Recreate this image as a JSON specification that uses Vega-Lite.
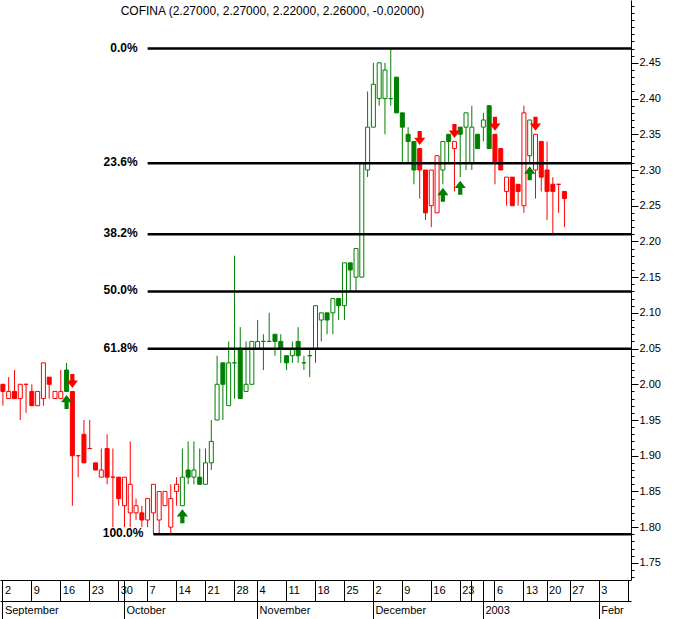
{
  "$schema": "https://vega.github.io/schema/vega-lite/v6.json",
  "width": 631,
  "height": 580,
  "padding": 0,
  "autosize": {"type": "pad"},
  "background": "white",
  "config": {
    "view": {"stroke": null},
    "axis": {"labelFont": "Liberation Sans", "labelFontSize": 11, "labelColor": "#000000", "tickColor": "#000000", "domainColor": "#000000", "grid": false, "tickWidth": 1, "domainWidth": 1}
  },
  "datasets": {
    "px": [
      {"d": "2002-09-02", "o": 2.00, "h": 2.00, "l": 1.97, "c": 1.99, "t": "r", "s": ""},
      {"d": "2002-09-03", "o": 1.98, "h": 2.01, "l": 1.98, "c": 1.99, "t": "r", "s": ""},
      {"d": "2002-09-04", "o": 1.99, "h": 2.02, "l": 1.98, "c": 1.98, "t": "r", "s": ""},
      {"d": "2002-09-05", "o": 1.98, "h": 2.00, "l": 1.95, "c": 2.00, "t": "r", "s": ""},
      {"d": "2002-09-06", "o": 2.00, "h": 2.00, "l": 1.96, "c": 2.00, "t": "r", "s": ""},
      {"d": "2002-09-09", "o": 1.99, "h": 2.00, "l": 1.97, "c": 1.97, "t": "r", "s": ""},
      {"d": "2002-09-10", "o": 1.97, "h": 1.99, "l": 1.97, "c": 1.99, "t": "r", "s": ""},
      {"d": "2002-09-11", "o": 1.98, "h": 2.03, "l": 1.97, "c": 2.03, "t": "r", "s": ""},
      {"d": "2002-09-12", "o": 2.01, "h": 2.01, "l": 1.98, "c": 2.00, "t": "r", "s": ""},
      {"d": "2002-09-13", "o": 1.98, "h": 1.99, "l": 1.98, "c": 1.99, "t": "r", "s": ""},
      {"d": "2002-09-16", "o": 1.98, "h": 2.02, "l": 1.98, "c": 1.99, "t": "r", "s": ""},
      {"d": "2002-09-17", "o": 2.02, "h": 2.03, "l": 1.99, "c": 1.99, "t": "g", "s": "buy"},
      {"d": "2002-09-18", "o": 1.99, "h": 1.99, "l": 1.83, "c": 1.90, "t": "r", "s": "sell"},
      {"d": "2002-09-19", "o": 1.90, "h": 1.90, "l": 1.87, "c": 1.90, "t": "r", "s": ""},
      {"d": "2002-09-20", "o": 1.93, "h": 1.95, "l": 1.89, "c": 1.89, "t": "r", "s": ""},
      {"d": "2002-09-23", "o": 1.91, "h": 1.95, "l": 1.91, "c": 1.91, "t": "r", "s": ""},
      {"d": "2002-09-24", "o": 1.89, "h": 1.89, "l": 1.88, "c": 1.88, "t": "r", "s": ""},
      {"d": "2002-09-25", "o": 1.87, "h": 1.91, "l": 1.87, "c": 1.88, "t": "r", "s": ""},
      {"d": "2002-09-26", "o": 1.91, "h": 1.93, "l": 1.86, "c": 1.87, "t": "r", "s": ""},
      {"d": "2002-09-27", "o": 1.87, "h": 1.91, "l": 1.80, "c": 1.87, "t": "r", "s": ""},
      {"d": "2002-09-30", "o": 1.87, "h": 1.87, "l": 1.83, "c": 1.84, "t": "r", "s": ""},
      {"d": "2002-10-01", "o": 1.83, "h": 1.87, "l": 1.80, "c": 1.87, "t": "r", "s": ""},
      {"d": "2002-10-02", "o": 1.82, "h": 1.92, "l": 1.80, "c": 1.86, "t": "r", "s": ""},
      {"d": "2002-10-03", "o": 1.82, "h": 1.84, "l": 1.81, "c": 1.83, "t": "r", "s": ""},
      {"d": "2002-10-04", "o": 1.82, "h": 1.83, "l": 1.80, "c": 1.81, "t": "r", "s": ""},
      {"d": "2002-10-07", "o": 1.81, "h": 1.84, "l": 1.80, "c": 1.84, "t": "r", "s": ""},
      {"d": "2002-10-08", "o": 1.82, "h": 1.86, "l": 1.79, "c": 1.86, "t": "r", "s": ""},
      {"d": "2002-10-09", "o": 1.81, "h": 1.85, "l": 1.79, "c": 1.85, "t": "r", "s": ""},
      {"d": "2002-10-10", "o": 1.83, "h": 1.85, "l": 1.83, "c": 1.85, "t": "r", "s": ""},
      {"d": "2002-10-11", "o": 1.80, "h": 1.86, "l": 1.79, "c": 1.84, "t": "r", "s": ""},
      {"d": "2002-10-14", "o": 1.85, "h": 1.87, "l": 1.83, "c": 1.86, "t": "r", "s": ""},
      {"d": "2002-10-15", "o": 1.83, "h": 1.91, "l": 1.83, "c": 1.87, "t": "g", "s": "buy"},
      {"d": "2002-10-16", "o": 1.88, "h": 1.92, "l": 1.86, "c": 1.87, "t": "g", "s": ""},
      {"d": "2002-10-17", "o": 1.87, "h": 1.92, "l": 1.86, "c": 1.88, "t": "g", "s": ""},
      {"d": "2002-10-18", "o": 1.87, "h": 1.91, "l": 1.86, "c": 1.86, "t": "g", "s": ""},
      {"d": "2002-10-21", "o": 1.86, "h": 1.91, "l": 1.86, "c": 1.89, "t": "g", "s": ""},
      {"d": "2002-10-22", "o": 1.89, "h": 1.95, "l": 1.88, "c": 1.92, "t": "g", "s": ""},
      {"d": "2002-10-23", "o": 1.95, "h": 2.04, "l": 1.95, "c": 2.00, "t": "g", "s": ""},
      {"d": "2002-10-24", "o": 2.03, "h": 2.03, "l": 1.95, "c": 2.00, "t": "g", "s": ""},
      {"d": "2002-10-25", "o": 1.97, "h": 2.06, "l": 1.97, "c": 2.03, "t": "g", "s": ""},
      {"d": "2002-10-28", "o": 2.03, "h": 2.18, "l": 1.98, "c": 2.03, "t": "g", "s": ""},
      {"d": "2002-10-29", "o": 2.05, "h": 2.08, "l": 1.98, "c": 1.98, "t": "g", "s": ""},
      {"d": "2002-10-30", "o": 1.99, "h": 2.06, "l": 1.99, "c": 2.00, "t": "g", "s": ""},
      {"d": "2002-10-31", "o": 2.00, "h": 2.06, "l": 2.00, "c": 2.06, "t": "g", "s": ""},
      {"d": "2002-11-04", "o": 2.05, "h": 2.09, "l": 2.05, "c": 2.06, "t": "g", "s": ""},
      {"d": "2002-11-05", "o": 2.06, "h": 2.07, "l": 2.02, "c": 2.06, "t": "g", "s": ""},
      {"d": "2002-11-06", "o": 2.06, "h": 2.10, "l": 2.06, "c": 2.06, "t": "g", "s": ""},
      {"d": "2002-11-07", "o": 2.07, "h": 2.07, "l": 2.04, "c": 2.06, "t": "g", "s": ""},
      {"d": "2002-11-08", "o": 2.06, "h": 2.07, "l": 2.03, "c": 2.05, "t": "g", "s": ""},
      {"d": "2002-11-11", "o": 2.04, "h": 2.04, "l": 2.02, "c": 2.03, "t": "g", "s": ""},
      {"d": "2002-11-12", "o": 2.04, "h": 2.06, "l": 2.03, "c": 2.05, "t": "g", "s": ""},
      {"d": "2002-11-13", "o": 2.06, "h": 2.08, "l": 2.03, "c": 2.04, "t": "g", "s": ""},
      {"d": "2002-11-14", "o": 2.03, "h": 2.04, "l": 2.02, "c": 2.03, "t": "g", "s": ""},
      {"d": "2002-11-15", "o": 2.04, "h": 2.05, "l": 2.01, "c": 2.04, "t": "g", "s": ""},
      {"d": "2002-11-18", "o": 2.05, "h": 2.11, "l": 2.03, "c": 2.11, "t": "g", "s": ""},
      {"d": "2002-11-19", "o": 2.09, "h": 2.10, "l": 2.06, "c": 2.10, "t": "g", "s": ""},
      {"d": "2002-11-20", "o": 2.10, "h": 2.10, "l": 2.07, "c": 2.09, "t": "g", "s": ""},
      {"d": "2002-11-21", "o": 2.10, "h": 2.12, "l": 2.07, "c": 2.12, "t": "g", "s": ""},
      {"d": "2002-11-22", "o": 2.12, "h": 2.12, "l": 2.09, "c": 2.11, "t": "g", "s": ""},
      {"d": "2002-11-25", "o": 2.11, "h": 2.17, "l": 2.09, "c": 2.17, "t": "g", "s": ""},
      {"d": "2002-11-26", "o": 2.17, "h": 2.17, "l": 2.13, "c": 2.16, "t": "g", "s": ""},
      {"d": "2002-11-27", "o": 2.15, "h": 2.19, "l": 2.13, "c": 2.19, "t": "g", "s": ""},
      {"d": "2002-11-28", "o": 2.15, "h": 2.31, "l": 2.15, "c": 2.31, "t": "g", "s": ""},
      {"d": "2002-11-29", "o": 2.30, "h": 2.41, "l": 2.29, "c": 2.36, "t": "g", "s": ""},
      {"d": "2002-12-02", "o": 2.36, "h": 2.45, "l": 2.36, "c": 2.42, "t": "g", "s": ""},
      {"d": "2002-12-03", "o": 2.40, "h": 2.45, "l": 2.39, "c": 2.45, "t": "g", "s": ""},
      {"d": "2002-12-04", "o": 2.40, "h": 2.45, "l": 2.35, "c": 2.44, "t": "g", "s": ""},
      {"d": "2002-12-05", "o": 2.40, "h": 2.47, "l": 2.39, "c": 2.40, "t": "g", "s": ""},
      {"d": "2002-12-06", "o": 2.43, "h": 2.43, "l": 2.38, "c": 2.38, "t": "g", "s": ""},
      {"d": "2002-12-09", "o": 2.38, "h": 2.38, "l": 2.31, "c": 2.36, "t": "g", "s": ""},
      {"d": "2002-12-10", "o": 2.35, "h": 2.36, "l": 2.31, "c": 2.34, "t": "g", "s": ""},
      {"d": "2002-12-11", "o": 2.34, "h": 2.34, "l": 2.28, "c": 2.30, "t": "g", "s": ""},
      {"d": "2002-12-12", "o": 2.33, "h": 2.33, "l": 2.26, "c": 2.30, "t": "r", "s": "sell"},
      {"d": "2002-12-13", "o": 2.30, "h": 2.30, "l": 2.23, "c": 2.24, "t": "r", "s": ""},
      {"d": "2002-12-16", "o": 2.25, "h": 2.30, "l": 2.22, "c": 2.30, "t": "r", "s": ""},
      {"d": "2002-12-17", "o": 2.24, "h": 2.32, "l": 2.24, "c": 2.32, "t": "r", "s": ""},
      {"d": "2002-12-18", "o": 2.30, "h": 2.34, "l": 2.28, "c": 2.34, "t": "g", "s": "buy"},
      {"d": "2002-12-19", "o": 2.35, "h": 2.35, "l": 2.31, "c": 2.34, "t": "g", "s": ""},
      {"d": "2002-12-20", "o": 2.33, "h": 2.34, "l": 2.27, "c": 2.34, "t": "r", "s": "sell"},
      {"d": "2002-12-23", "o": 2.36, "h": 2.36, "l": 2.29, "c": 2.35, "t": "g", "s": "buy"},
      {"d": "2002-12-27", "o": 2.36, "h": 2.38, "l": 2.30, "c": 2.38, "t": "g", "s": ""},
      {"d": "2002-12-30", "o": 2.31, "h": 2.39, "l": 2.30, "c": 2.36, "t": "g", "s": ""},
      {"d": "2002-12-31", "o": 2.35, "h": 2.35, "l": 2.33, "c": 2.33, "t": "g", "s": ""},
      {"d": "2003-01-02", "o": 2.36, "h": 2.38, "l": 2.34, "c": 2.37, "t": "g", "s": ""},
      {"d": "2003-01-03", "o": 2.39, "h": 2.39, "l": 2.33, "c": 2.33, "t": "g", "s": ""},
      {"d": "2003-01-06", "o": 2.35, "h": 2.35, "l": 2.28, "c": 2.31, "t": "r", "s": "sell"},
      {"d": "2003-01-07", "o": 2.33, "h": 2.33, "l": 2.30, "c": 2.30, "t": "r", "s": ""},
      {"d": "2003-01-08", "o": 2.27, "h": 2.29, "l": 2.25, "c": 2.29, "t": "r", "s": ""},
      {"d": "2003-01-09", "o": 2.29, "h": 2.29, "l": 2.25, "c": 2.25, "t": "r", "s": ""},
      {"d": "2003-01-10", "o": 2.28, "h": 2.28, "l": 2.25, "c": 2.27, "t": "r", "s": ""},
      {"d": "2003-01-13", "o": 2.25, "h": 2.39, "l": 2.24, "c": 2.38, "t": "r", "s": ""},
      {"d": "2003-01-14", "o": 2.32, "h": 2.37, "l": 2.31, "c": 2.37, "t": "g", "s": "buy"},
      {"d": "2003-01-15", "o": 2.30, "h": 2.35, "l": 2.26, "c": 2.35, "t": "r", "s": "sell"},
      {"d": "2003-01-16", "o": 2.34, "h": 2.34, "l": 2.27, "c": 2.29, "t": "r", "s": ""},
      {"d": "2003-01-20", "o": 2.30, "h": 2.34, "l": 2.23, "c": 2.27, "t": "r", "s": ""},
      {"d": "2003-01-22", "o": 2.28, "h": 2.29, "l": 2.21, "c": 2.27, "t": "r", "s": ""},
      {"d": "2003-01-23", "o": 2.28, "h": 2.28, "l": 2.24, "c": 2.28, "t": "r", "s": ""},
      {"d": "2003-01-24", "o": 2.27, "h": 2.27, "l": 2.22, "c": 2.26, "t": "r", "s": ""}
    ],
    "fib": [
      {"p": "0.0%", "v": 2.4700, "s": "2002-10-07"},
      {"p": "23.6%", "v": 2.3095, "s": "2002-10-07"},
      {"p": "38.2%", "v": 2.2102, "s": "2002-10-07"},
      {"p": "50.0%", "v": 2.1300, "s": "2002-10-07"},
      {"p": "61.8%", "v": 2.0498, "s": "2002-10-07"},
      {"p": "100.0%", "v": 1.7900, "s": "2002-10-08"}
    ]
  },
  "layer": [
    {
      "data": {"name": "px"},
      "mark": {"type": "rule", "strokeWidth": 1},
      "encoding": {
        "x": {
          "field": "d", "type": "ordinal",
          "scale": {"type": "band", "paddingInner": 0, "paddingOuter": 0, "domain": ["2002-09-02","2002-09-03","2002-09-04","2002-09-05","2002-09-06","2002-09-09","2002-09-10","2002-09-11","2002-09-12","2002-09-13","2002-09-16","2002-09-17","2002-09-18","2002-09-19","2002-09-20","2002-09-23","2002-09-24","2002-09-25","2002-09-26","2002-09-27","2002-09-30","2002-10-01","2002-10-02","2002-10-03","2002-10-04","2002-10-07","2002-10-08","2002-10-09","2002-10-10","2002-10-11","2002-10-14","2002-10-15","2002-10-16","2002-10-17","2002-10-18","2002-10-21","2002-10-22","2002-10-23","2002-10-24","2002-10-25","2002-10-28","2002-10-29","2002-10-30","2002-10-31","2002-11-04","2002-11-05","2002-11-06","2002-11-07","2002-11-08","2002-11-11","2002-11-12","2002-11-13","2002-11-14","2002-11-15","2002-11-18","2002-11-19","2002-11-20","2002-11-21","2002-11-22","2002-11-25","2002-11-26","2002-11-27","2002-11-28","2002-11-29","2002-12-02","2002-12-03","2002-12-04","2002-12-05","2002-12-06","2002-12-09","2002-12-10","2002-12-11","2002-12-12","2002-12-13","2002-12-16","2002-12-17","2002-12-18","2002-12-19","2002-12-20","2002-12-23","2002-12-27","2002-12-30","2002-12-31","2003-01-02","2003-01-03","2003-01-06","2003-01-07","2003-01-08","2003-01-09","2003-01-10","2003-01-13","2003-01-14","2003-01-15","2003-01-16","2003-01-20","2003-01-22","2003-01-23","2003-01-24","2003-01-27","2003-01-28","2003-01-29","2003-01-30","2003-01-31","2003-02-03","2003-02-04","2003-02-05","2003-02-06","2003-02-07","2003-02-10"]},
          "axis": {
            "title": null, "orient": "bottom", "offset": 0,
            "values": ["2002-09-02","2002-09-09","2002-09-16","2002-09-23","2002-09-30","2002-10-01","2002-10-07","2002-10-14","2002-10-21","2002-10-28","2002-11-04","2002-11-11","2002-11-18","2002-11-25","2002-12-02","2002-12-09","2002-12-16","2002-12-23","2002-12-30","2003-01-02","2003-01-06","2003-01-13","2003-01-20","2003-01-27","2003-02-03","2003-02-10"],
            "labelExpr": "indexof(['2002-10-01','2002-12-30','2003-01-02','2003-02-10'], datum.value) >= 0 ? '' : '' + toNumber(slice(datum.value, 8))",
            "tickSize": 21, "labelAlign": "left", "labelBaseline": "top", "labelPadding": -17, "labelOffset": 2, "labelAngle": 0, "labelOverlap": false, "labelBound": false, "labelFlush": false, "domain": true
          }
        },
        "y": {
          "field": "l", "type": "quantitative",
          "scale": {"domain": [1.726, 2.538], "nice": false, "zero": false},
          "axis": {"title": null, "orient": "right", "values": [1.75,1.8,1.85,1.9,1.95,2.0,2.05,2.1,2.15,2.2,2.25,2.3,2.35,2.4,2.45], "format": ".2f", "tickSize": 7, "labelPadding": 1, "domain": true, "labelFontSize": 11}
        },
        "y2": {"field": "h"},
        "stroke": {"field": "t", "type": "nominal", "scale": {"domain": ["g", "r"], "range": ["#008000", "#ff0000"]}, "legend": null}
      }
    },
    {
      "data": {"name": "px"},
      "mark": {"type": "bar", "width": 4, "strokeWidth": 1},
      "encoding": {
        "x": {
          "field": "d", "type": "ordinal",
          "axis": {
            "title": null, "orient": "bottom", "offset": 21,
            "values": ["2002-09-02","2002-10-01","2002-11-04","2002-12-02","2003-01-02","2003-02-03"],
            "labelExpr": "{'2002-09-02':'September','2002-10-01':'October','2002-11-04':'November','2002-12-02':'December','2003-01-02':'2003','2003-02-03':'Febr'}[datum.value]",
            "tickSize": 18, "labelAlign": "left", "labelBaseline": "top", "labelPadding": -15, "labelOffset": 2, "labelAngle": 0, "labelOverlap": false, "labelBound": false, "labelFlush": false, "domain": true
          }
        },
        "y": {
          "field": "o", "type": "quantitative",
          "axis": {"title": null, "orient": "right", "values": [1.73,1.74,1.75,1.76,1.77,1.78,1.79,1.8,1.81,1.82,1.83,1.84,1.85,1.86,1.87,1.88,1.89,1.9,1.91,1.92,1.93,1.94,1.95,1.96,1.97,1.98,1.99,2.0,2.01,2.02,2.03,2.04,2.05,2.06,2.07,2.08,2.09,2.1,2.11,2.12,2.13,2.14,2.15,2.16,2.17,2.18,2.19,2.2,2.21,2.22,2.23,2.24,2.25,2.26,2.27,2.28,2.29,2.3,2.31,2.32,2.33,2.34,2.35,2.36,2.37,2.38,2.39,2.4,2.41,2.42,2.43,2.44,2.45,2.46,2.47,2.48,2.49,2.5,2.51,2.52,2.53], "tickSize": 3, "labels": false, "domain": false}
        },
        "y2": {"field": "c"},
        "fill": {
          "condition": {"test": "datum.c < datum.o", "field": "t", "type": "nominal", "scale": {"domain": ["g", "r"], "range": ["#008000", "#ff0000"]}, "legend": null},
          "value": "#ffffff"
        },
        "stroke": {"field": "t", "type": "nominal", "scale": {"domain": ["g", "r"], "range": ["#008000", "#ff0000"]}, "legend": null}
      }
    },
    {
      "data": {"name": "px"},
      "transform": [{"filter": "datum.s == 'buy'"}],
      "mark": {"type": "point", "filled": true, "opacity": 1, "size": 196, "color": "#008000", "strokeWidth": 0, "yOffset": 10.5, "shape": "M0,-1L0.8,0.05L0.3,0.05L0.3,1L-0.3,1L-0.3,0.05L-0.8,0.05Z"},
      "encoding": {
        "x": {"field": "d", "type": "ordinal", "axis": null},
        "y": {"field": "l", "type": "quantitative", "axis": null}
      }
    },
    {
      "data": {"name": "px"},
      "transform": [{"filter": "datum.s == 'sell'"}],
      "mark": {"type": "point", "filled": true, "opacity": 1, "size": 196, "color": "#ff0000", "strokeWidth": 0, "yOffset": -10.5, "shape": "M0,1L0.8,-0.05L0.3,-0.05L0.3,-1L-0.3,-1L-0.3,-0.05L-0.8,-0.05Z"},
      "encoding": {
        "x": {"field": "d", "type": "ordinal", "axis": null},
        "y": {"field": "h", "type": "quantitative", "axis": null}
      }
    },
    {
      "data": {"name": "fib"},
      "mark": {"type": "rule", "strokeWidth": 2.5, "color": "#000000"},
      "encoding": {
        "x": {"field": "s", "type": "ordinal", "axis": null},
        "x2": {"value": "width"},
        "y": {"field": "v", "type": "quantitative", "axis": null}
      }
    },
    {
      "data": {"name": "fib"},
      "mark": {"type": "text", "align": "right", "baseline": "middle", "dx": -10, "dy": -1, "font": "Liberation Sans", "fontSize": 12, "fontWeight": "bold", "color": "#000000"},
      "encoding": {
        "x": {"field": "s", "type": "ordinal", "axis": null},
        "y": {"field": "v", "type": "quantitative", "axis": null},
        "text": {"field": "p", "type": "nominal"}
      }
    },
    {
      "data": {"values": [{}]},
      "mark": {"type": "text", "align": "left", "baseline": "middle", "dx": 2, "font": "Liberation Sans", "fontSize": 12, "color": "#000000"},
      "encoding": {
        "x": {"datum": "2002-09-30", "type": "ordinal", "axis": null},
        "y": {"datum": 2.5226, "type": "quantitative", "axis": null},
        "text": {"value": "COFINA (2.27000, 2.27000, 2.22000, 2.26000, -0.02000)"}
      }
    }
  ],
  "resolve": {"axis": {"x": "independent", "y": "independent"}}
}
